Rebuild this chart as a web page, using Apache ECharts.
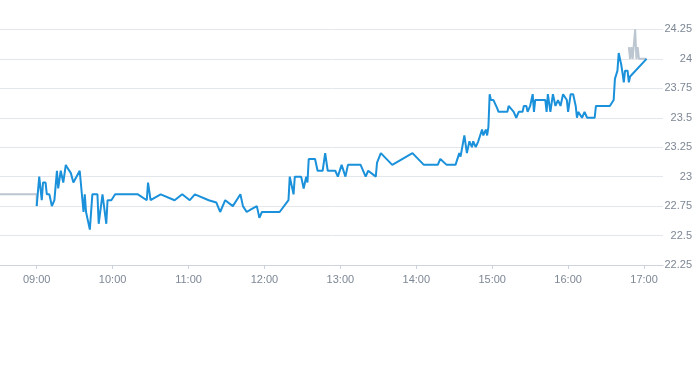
<!DOCTYPE html>
<html>
<head>
<meta charset="utf-8">
<script src="https://cdn.jsdelivr.net/npm/echarts@6/dist/echarts.min.js"></script>
<style>html,body{margin:0;padding:0;background:#fff}#c{width:693px;height:365px}</style>
</head>
<body>
<div id="c"></div>
<script>
// Pre-market (grey)
const preTimes = ['08:31','09:00','09:00'];
const preValues = [22.85, 22.85, 22.75];

// Regular session (blue)
const mainTimes = ['09:00','09:02','09:04','09:05','09:07','09:08','09:10','09:12','09:14','09:16','09:17','09:19','09:21','09:23','09:24','09:27','09:29','09:34','09:37','09:38','09:39','09:42','09:44','09:48','09:49','09:50','09:52','09:55','09:56','09:59',
'10:02','10:20','10:27','10:28','10:30','10:38','10:49','10:55','11:01','11:05','11:16','11:22','11:25','11:29','11:35','11:41','11:43','11:46','11:49','11:54','11:56','11:58',
'12:12','12:19','12:20','12:23','12:24','12:29','12:31','12:33','12:34','12:35','12:40','12:42','12:46','12:48','12:50','12:56','12:58',
'13:01','13:04','13:06','13:16','13:20','13:22','13:28','13:29','13:32','13:41','13:57','14:06','14:17','14:19','14:24','14:31','14:34','14:35','14:38','14:40','14:42','14:44','14:45','14:47','14:49','14:52','14:53','14:55','14:56','14:57','14:58','14:59',
'15:01','15:04','15:05','15:12','15:13','15:17','15:19','15:21','15:24','15:25','15:27','15:28','15:30','15:32','15:33','15:34','15:36','15:42','15:43','15:44','15:46','15:48','15:50','15:52','15:54','15:56','15:59',
'16:00','16:02','16:04','16:06','16:07','16:08','16:11','16:13','16:15','16:21','16:22','16:33','16:36','16:37','16:39','16:40','16:42','16:43','16:44','16:45','16:47','16:48','16:49','17:02'];
const mainValues = [22.75,23.00,22.80,22.95,22.95,22.85,22.85,22.75,22.80,23.05,22.90,23.05,22.95,23.10,23.08,23.03,22.95,23.05,22.70,22.85,22.70,22.55,22.85,22.85,22.60,22.60,22.85,22.60,22.80,22.80,
22.85,22.85,22.80,22.95,22.80,22.85,22.80,22.85,22.80,22.85,22.80,22.78,22.70,22.80,22.75,22.85,22.75,22.70,22.72,22.75,22.65,22.70,
22.70,22.80,23.00,22.85,23.00,23.00,22.90,23.00,22.95,23.15,23.15,23.05,23.05,23.20,23.05,23.05,23.00,
23.10,23.00,23.10,23.10,23.00,23.05,23.00,23.12,23.20,23.10,23.20,23.10,23.10,23.15,23.10,23.10,23.20,23.17,23.35,23.20,23.30,23.25,23.30,23.25,23.30,23.40,23.35,23.40,23.35,23.42,23.70,23.65,
23.65,23.58,23.55,23.55,23.60,23.55,23.50,23.55,23.55,23.60,23.60,23.55,23.60,23.70,23.55,23.65,23.65,23.65,23.55,23.70,23.55,23.70,23.60,23.65,23.60,23.70,23.65,
23.55,23.70,23.70,23.60,23.50,23.55,23.50,23.55,23.50,23.50,23.60,23.60,23.65,23.83,23.90,24.05,23.95,23.88,23.80,23.90,23.90,23.80,23.85,24.00];

// After-hours (grey)
const postTimes = ['16:48','16:49','16:50','16:51','16:53','16:54','16:55','16:56','17:02'];
const postValues = [24.10,24.00,24.10,24.00,24.25,24.00,24.10,24.00,24.00];

const tickTimes = ['09:00','10:00','11:00','12:00','13:00','14:00','15:00','16:00','17:00'];
const axisStart = '08:31', axisEnd = '17:15';

function toMin(s){const p=s.split(':');return +p[0]*60+ +p[1];}
function fmt(m){const h=Math.floor(m/60),mm=m%60;return (h<10?'0':'')+h+':'+(mm<10?'0':'')+mm;}
function pairs(t,v){return t.map((s,i)=>[toMin(s),v[i]]);}
const ticks = tickTimes.map(toMin);

const chart = echarts.init(document.getElementById('c'));
chart.setOption({
  animation:false,
  grid:{left:0,right:30,top:29.4,bottom:100,containLabel:false,outerBoundsMode:'none'},
  xAxis:{
    type:'value', min:toMin(axisStart), max:toMin(axisEnd),
    axisLine:{lineStyle:{color:'#ccd3dc',width:1}},
    axisTick:{show:true,customValues:ticks,length:4,lineStyle:{color:'#ccd3dc'}},
    axisLabel:{customValues:ticks,formatter:v=>fmt(v),color:'#7d8795',fontSize:11,fontFamily:'Liberation Sans, Arial, sans-serif',margin:9},
    splitLine:{show:false}
  },
  yAxis:{
    type:'value', position:'right', min:22.25, max:24.25, interval:0.25,
    axisLine:{show:false}, axisTick:{show:false},
    axisLabel:{align:'right',margin:29,color:'#7d8795',fontSize:11,fontFamily:'Liberation Sans, Arial, sans-serif'},
    splitLine:{lineStyle:{color:'#e3e7ec',width:1}}
  },
  series:[
    {type:'line',data:pairs(preTimes,preValues),showSymbol:false,lineStyle:{color:'#bcc6d0',width:2},itemStyle:{color:'#bcc6d0'}},
    {type:'line',data:pairs(postTimes,postValues),showSymbol:false,lineStyle:{color:'#bcc6d0',width:2},itemStyle:{color:'#bcc6d0'}},
    {type:'line',data:pairs(mainTimes,mainValues),showSymbol:false,lineStyle:{color:'#1a91da',width:2},itemStyle:{color:'#1a91da'}}
  ]
});
</script>
</body>
</html>
